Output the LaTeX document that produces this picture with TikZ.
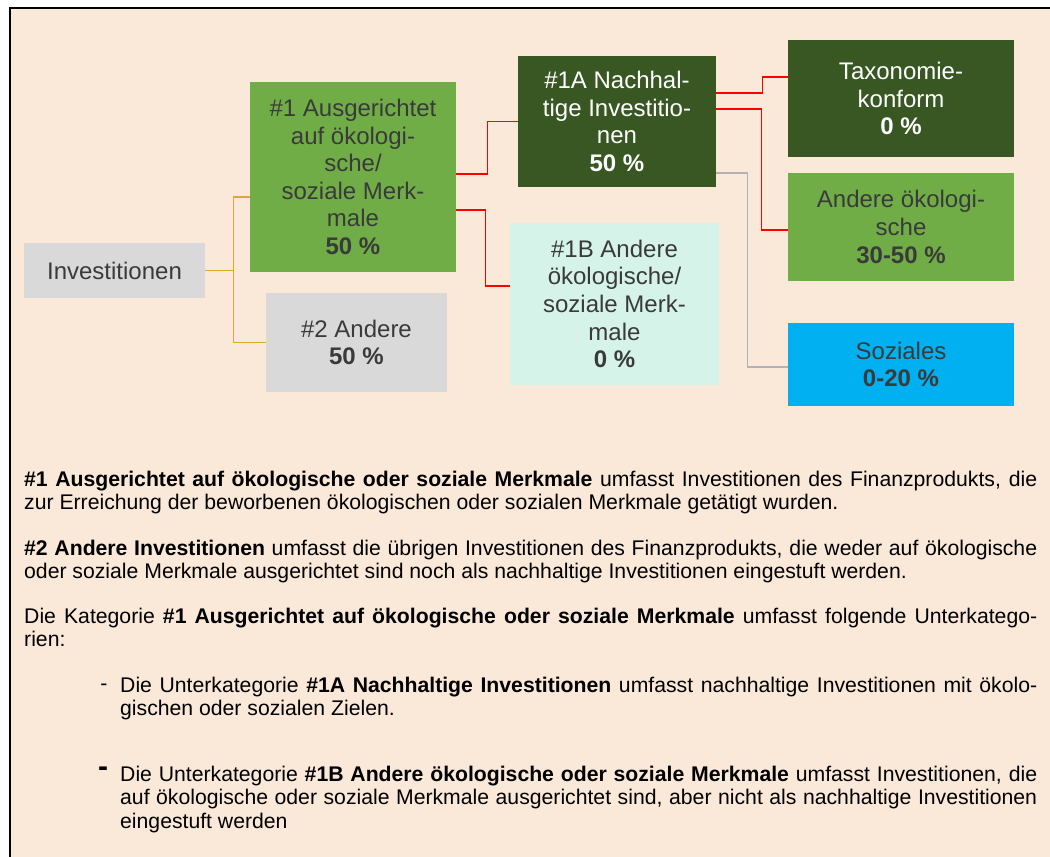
\documentclass[tikz,border=0pt]{standalone}
\usepackage{fontspec}
\setmainfont{Liberation Sans}
\usetikzlibrary{calc}
\definecolor{peach}{HTML}{FAE8D8}
\definecolor{lightgrey}{HTML}{D9D9D9}
\definecolor{midgreen}{HTML}{70AD47}
\definecolor{darkgreen}{HTML}{385723}
\definecolor{mint}{HTML}{D5F3E8}
\definecolor{skyblue}{HTML}{00B0F0}
\definecolor{gold}{HTML}{DDA83A}
\definecolor{boxtext}{HTML}{3A3A3A}
\begin{document}
\begin{tikzpicture}[x=1pt, y=-1pt,
  box/.style={inner sep=0pt, align=center, text=boxtext,
    font=\fontsize{24}{27.6}\selectfont},
  grey box/.style={box, fill=lightgrey},
  green box/.style={box, fill=midgreen},
  dark box/.style={box, fill=darkgreen, text=white},
  mint box/.style={box, fill=mint},
  blue box/.style={box, fill=skyblue},
  gold line/.style={draw=gold, line width=1.4pt},
  red line/.style={draw=red, line width=1.2pt},
  grey line/.style={draw=black!30, line width=1.2pt},
  para/.style={anchor=north west, inner sep=0pt, align=justify,
    font=\fontsize{21.2}{23.3}\selectfont},
  dash mark/.style={anchor=base, inner sep=0pt}]
      \useasboundingbox (0,0) rectangle (1050,857);
      \fill[white] (0,0) rectangle (1050,857);
      \fill[peach] (10,8) rectangle (1050,857);
      \draw[line width=2pt] (10,857) -- (10,8) -- (1050,8);
      \node[grey box, minimum width=181pt, minimum height=55pt] (inv) at (114.5,270.5) {Investitionen};
      \node[green box, minimum width=206pt, minimum height=190pt] (a1) at (353,177)
        {\#1 Ausgerichtet\\auf ökologi-\\sche/\\soziale Merk-\\male\\\textbf{50 \%}};
      \node[grey box, minimum width=181pt, minimum height=99pt] (a2) at (356.5,342.5)
        {\#2 Andere\\\textbf{50 \%}};
      \node[dark box, minimum width=198pt, minimum height=131pt] (a1a) at (617,121.5)
        {\#1A Nachhal-\\tige Investitio-\\nen\\\textbf{50 \%}};
      \node[mint box, minimum width=209pt, minimum height=162pt] (a1b) at (614.5,304)
        {\#1B Andere\\ökologische/\\soziale Merk-\\male\\\textbf{0 \%}};
      \node[dark box, minimum width=226pt, minimum height=117pt] (tax) at (901,98.5)
        {Taxonomie-\\konform\\\textbf{0 \%}};
      \node[green box, minimum width=226pt, minimum height=108pt] (eco) at (901,227)
        {Andere ökologi-\\sche\\\textbf{30-50 \%}};
      \node[blue box, minimum width=226pt, minimum height=83pt] (soc) at (901,364.5)
        {Soziales\\\textbf{0-20 \%}};
      \draw[gold line] (inv.east) -- ++(28,0) |- ([yshift=-20pt]a1.west);
      \draw[gold line] (inv.east) -- ++(28,0) |- (a2.west);
      \draw[red line] ([yshift=3pt]a1.east) -- ++(31,0) |- (a1a.west);
      \draw[red line] ([yshift=-33pt]a1.east) -- ++(29,0) |- ([yshift=18pt]a1b.west);
      \draw[red line] ([yshift=28.5pt]a1a.east) -- ++(46,0) |- ([yshift=21.5pt]tax.west);
      \draw[red line] ([yshift=12.5pt]a1a.east) -- ++(45,0) |- ([yshift=-3pt]eco.west);
      \draw[grey line] ([yshift=-51.5pt]a1a.east) -- ++(31,0) |- ([yshift=-2.5pt]soc.west);
      \node[para, text width=1013pt] (p1) at (24,471)
        {\textbf{\#1 Ausgerichtet auf ökologische oder soziale Merkmale} umfasst Investitionen des Finanzprodukts, die\linebreak
         zur Erreichung der beworbenen ökologischen oder sozialen Merkmale getätigt wurden.};
      \node[para, text width=1013pt] (p2) at (24,540)
        {\textbf{\#2 Andere Investitionen} umfasst die übrigen Investitionen des Finanzprodukts, die weder auf ökologische\linebreak
         oder soziale Merkmale ausgerichtet sind noch als nachhaltige Investitionen eingestuft werden.};
      \node[para, text width=1013pt] (p3) at (24,608)
        {Die Kategorie \textbf{\#1 Ausgerichtet auf ökologische oder soziale Merkmale} umfasst folgende Unterkatego-\linebreak
         rien:};
      \node[para, text width=917pt] (b1) at (120,677)
        {Die Unterkategorie \textbf{\#1A Nachhaltige Investitionen} umfasst nachhaltige Investitionen mit ökolo-\linebreak
         gischen oder sozialen Zielen.};
      \node[para, text width=917pt] (b2) at (120,766)
        {Die Unterkategorie \textbf{\#1B Andere ökologische oder soziale Merkmale} umfasst Investitionen, die\linebreak
         auf ökologische oder soziale Merkmale ausgerichtet sind, aber nicht als nachhaltige Investitionen\linebreak
         eingestuft werden};
      \node[dash mark, font=\fontsize{21.2}{23.3}\selectfont] (d1) at (104,690.5) {-};
      \node[dash mark, font=\fontsize{30}{32}\selectfont\bfseries] (d2) at (103,776) {-};
\end{tikzpicture}
\end{document}
